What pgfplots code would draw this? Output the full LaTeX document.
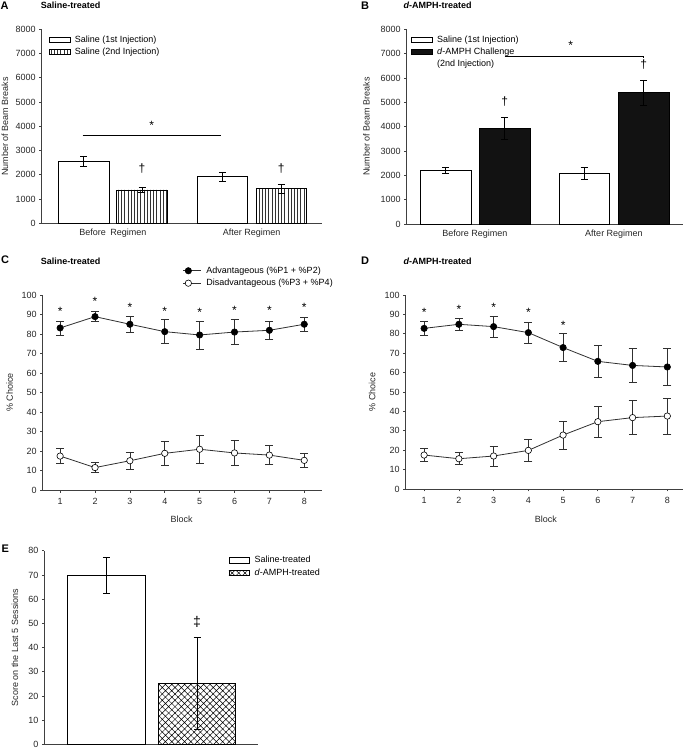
\documentclass[border=0pt]{standalone}
\usepackage{fontspec}
\setmainfont{Liberation Sans}
\usepackage{pgfplots}
\pgfplotsset{compat=1.18}
\usetikzlibrary{patterns,patterns.meta}
\definecolor{axgray}{HTML}{404040}
\definecolor{lngray}{HTML}{303030}
\newcommand{\nf}{\fontsize{9}{10.8}\selectfont}
\newcommand{\symf}{\fontsize{12}{12}\selectfont}
\pgfplotsset{
  base/.style={
    scale only axis, axis lines=left, axis line style={-, axgray, line width=0.8pt},
    tick align=outside, major tick length=2.5pt, tick style={axgray, line width=0.7pt},
    /pgf/number format/assume math mode=true, /pgf/number format/1000 sep={},
    tick label style={font=\nf, text=black!85}, label style={font=\nf, text=black!85},
    legend cell align=left, clip=false, anchor=south west,
    ylabel style={anchor=center},
  },
  barax/.style={base, ybar, x tick style={draw=none},
    error bars/error bar style={black, line width=0.6pt},
    error bars/error mark options={rotate=90, mark size=3.5pt, black, line width=0.6pt}},
  boxleg/.style={legend image code/.code={\draw[##1] (0pt,-2.7pt) rectangle (20.7pt,2.7pt);}},
  linleg/.style={legend image code/.code={\draw[mark repeat=2,mark phase=2,##1] plot coordinates {(0pt,0pt) (5pt,0pt) (18pt,0pt)};}},
  legst/.style={draw=none, fill=none, font=\nf, inner sep=0pt, row sep=2pt, column sep=3.5pt, nodes={inner sep=1.2pt}},
  lineplot/.style={lngray, line width=0.8pt, mark=*, mark size=3.2pt, linleg,
    error bars/.cd, y dir=both, y explicit,
    error bar style={lngray, line width=0.6pt},
    error mark options={rotate=90, mark size=4pt, lngray, line width=0.6pt}, /pgfplots/.cd},
}
\pgfplotstableread{
x y e
1 83.1 3.6
2 88.9 2.6
3 85.0 4.2
4 81.2 6.2
5 79.5 7.1
6 81.0 6.3
7 81.9 4.8
8 85.0 3.7
}\CAdv
\pgfplotstableread{
x y e
1 17.4 3.8
2 11.5 2.6
3 15.0 4.3
4 18.8 6.0
5 20.9 7.0
6 19.0 6.3
7 17.9 4.8
8 15.2 3.8
}\CDis
\pgfplotstableread{
x y e
1 82.8 3.5
2 84.9 2.9
3 83.7 5.4
4 80.6 5.4
5 72.9 7.3
6 65.8 8.2
7 63.7 8.7
8 62.9 9.5
}\DAdv
\pgfplotstableread{
x y e
1 17.5 3.4
2 15.6 3.1
3 17.0 5.1
4 19.9 5.6
5 27.8 7.3
6 34.7 7.8
7 36.8 8.8
8 37.6 9.4
}\DDis
\begin{document}
\begin{tikzpicture}
\useasboundingbox (0,0) rectangle (685pt,748pt);
% ---------------- Panel A ----------------
\node[anchor=west, inner sep=0pt, font=\bfseries\fontsize{11}{13}\selectfont] at (0.5pt,742pt) {A};
\node[anchor=west, inner sep=0pt, font=\bfseries\nf] at (40.7pt,742.7pt) {Saline-treated};
\begin{axis}[barax, at={(41.7pt,524.7pt)}, width=280pt, height=194pt,
  xmin=0, xmax=280, ymin=0, ymax=8000, ytick={0,1000,...,8000}, bar width=50.5,
  xtick={71.3,210}, xticklabels={Before\hspace{0.5em}Regimen, After Regimen},
  ylabel={Number of Beam Breaks}, ylabel style={at={(axis description cs:-0.131,0.5)}},
  legend style={legst, at={(axis description cs:0.025,0.975)}, anchor=north west}]
\addplot[draw=black, fill=white, line width=0.6pt, bar shift=0pt, boxleg,
  error bars/.cd, y dir=both, y explicit]
  coordinates {(42,2560) +- (0,205) (180.6,1924) +- (0,190)};
\addlegendentry{Saline (1st Injection)}
\addplot[draw=black, fill=white, line width=0.6pt, bar shift=0pt, boxleg,
  postaction={pattern={Lines[angle=90,distance=3.2pt,line width=0.7pt]}, pattern color=black!80},
  error bars/.cd, y dir=both, y explicit]
  coordinates {(100.3,1375) +- (0,110) (239.6,1430) +- (0,185)};
\addlegendentry{Saline (2nd Injection)}
\draw[black, line width=0.7pt] (axis cs:41,3643) -- (axis cs:179.3,3643);
\node[font=\symf] at (axis cs:110,4050) {*};
\node[font=\symf] at (axis cs:100.3,2239) {†};
\node[font=\symf] at (axis cs:239.6,2239) {†};
\end{axis}
% ---------------- Panel B ----------------
\node[anchor=west, inner sep=0pt, font=\bfseries\fontsize{11}{13}\selectfont] at (361pt,742pt) {B};
\node[anchor=west, inner sep=0pt, font=\bfseries\nf] at (403.3pt,742.7pt) {\textit{d}-AMPH-treated};
\begin{axis}[barax, at={(406.7pt,524pt)}, width=276.3pt, height=194.7pt,
  xmin=0, xmax=276.3, ymin=0, ymax=8000, ytick={0,1000,...,8000}, bar width=50.5,
  xtick={68.3,207.3}, xticklabels={Before Regimen, After Regimen},
  ylabel={Number of Beam Breaks}, ylabel style={at={(axis description cs:-0.146,0.5)}},
  legend style={legst, at={(axis description cs:0.015,0.975)}, anchor=north west}]
\addplot[draw=black, fill=white, line width=0.6pt, bar shift=0pt, boxleg,
  error bars/.cd, y dir=both, y explicit]
  coordinates {(39,2205) +- (0,140) (177.5,2082) +- (0,240)};
\addlegendentry{Saline (1st Injection)}
\addplot[draw=black, fill=black!93, line width=0.6pt, bar shift=0pt, boxleg,
  error bars/.cd, y dir=both, y explicit]
  coordinates {(98,3931) +- (0,460) (237,5397) +- (0,500)};
\addlegendentry{\textit{d}-AMPH Challenge}
\addlegendimage{empty legend}
\addlegendentry{(2nd Injection)}
\draw[black, line width=0.7pt] (axis cs:98,6877) -- (axis cs:236.6,6877) -- (axis cs:236.6,6820);
\node[font=\symf] at (axis cs:164,7330) {*};
\node[font=\symf] at (axis cs:98,5025) {†};
\node[font=\symf] at (axis cs:237,6533) {†};
\end{axis}
% ---------------- Panel C ----------------
\node[anchor=west, inner sep=0pt, font=\bfseries\fontsize{11}{13}\selectfont] at (1pt,488pt) {C};
\node[anchor=west, inner sep=0pt, font=\bfseries\nf] at (40.7pt,487pt) {Saline-treated};
\begin{axis}[base, at={(42.7pt,258pt)}, width=279pt, height=195pt,
  xmin=0.5, xmax=8.5, ymin=0, ymax=100, ytick={0,10,...,100}, xtick={1,...,8},
  x tick label style={yshift=-2pt},
  xlabel={Block}, xlabel style={at={(axis description cs:0.498,-0.149)}, anchor=center},
  ylabel={\% Choice}, ylabel style={at={(axis description cs:-0.118,0.5)}},
  legend style={legst, at={(axis description cs:0.502,1.152)}, anchor=north west}]
\addplot[lineplot, mark options={fill=black, draw=black, line width=0.6pt}]
  table[x=x, y=y, y error=e] {\CAdv};
\addlegendentry{Advantageous (\%P1 + \%P2)}
\addplot[lineplot, mark options={fill=white, draw=black, line width=0.6pt}]
  table[x=x, y=y, y error=e] {\CDis};
\addlegendentry{Disadvantageous (\%P3 + \%P4)}
\node[font=\symf] at (axis cs:1,91.7) {*};
\node[font=\symf] at (axis cs:2,96.5) {*};
\node[font=\symf] at (axis cs:3,93.6) {*};
\node[font=\symf] at (axis cs:4,91.7) {*};
\node[font=\symf] at (axis cs:5,91.0) {*};
\node[font=\symf] at (axis cs:6,92.2) {*};
\node[font=\symf] at (axis cs:7,92.2) {*};
\node[font=\symf] at (axis cs:8,93.6) {*};
\end{axis}
% ---------------- Panel D ----------------
\node[anchor=west, inner sep=0pt, font=\bfseries\fontsize{11}{13}\selectfont] at (361pt,487pt) {D};
\node[anchor=west, inner sep=0pt, font=\bfseries\nf] at (403.3pt,487pt) {\textit{d}-AMPH-treated};
\begin{axis}[base, at={(405.7pt,259pt)}, width=277.6pt, height=194pt,
  xmin=0.47, xmax=8.46, ymin=0, ymax=100, ytick={0,10,...,100}, xtick={1,...,8},
  x tick label style={yshift=-2pt},
  xlabel={Block}, xlabel style={at={(axis description cs:0.505,-0.154)}, anchor=center},
  ylabel={\% Choice}, ylabel style={at={(axis description cs:-0.121,0.5)}}]
\addplot[lineplot, mark options={fill=black, draw=black, line width=0.6pt}]
  table[x=x, y=y, y error=e] {\DAdv};
\addplot[lineplot, mark options={fill=white, draw=black, line width=0.6pt}]
  table[x=x, y=y, y error=e] {\DDis};
\node[font=\symf] at (axis cs:1,91.0) {*};
\node[font=\symf] at (axis cs:2,92.5) {*};
\node[font=\symf] at (axis cs:3,93.4) {*};
\node[font=\symf] at (axis cs:4,90.8) {*};
\node[font=\symf] at (axis cs:5,84.1) {*};
\end{axis}
% ---------------- Panel E ----------------
\node[anchor=west, inner sep=0pt, font=\bfseries\fontsize{11}{13}\selectfont] at (1.5pt,199.7pt) {E};
\begin{axis}[barax, at={(44.3pt,3.7pt)}, width=214pt, height=193.6pt,
  xmin=0, xmax=214, ymin=0, ymax=80, ytick={0,10,...,80}, xtick=\empty, bar width=77.4,
  ylabel={Score on the Last 5 Sessions}, ylabel style={at={(axis description cs:-0.137,0.5)}},
  legend style={legst, at={(axis description cs:0.86,0.978)}, anchor=north west}]
\addplot[draw=black, fill=white, line width=0.6pt, bar shift=0pt, boxleg,
  error bars/.cd, y dir=both, y explicit]
  coordinates {(62,69.9) +- (0,7.4)};
\addlegendentry{Saline-treated}
\addplot[draw=black, fill=white, line width=0.6pt, bar shift=0pt, boxleg,
  postaction={pattern={Hatch[angle=45,distance=4.5pt,line width=0.5pt]}, pattern color=black},
  error bars/.cd, y dir=both, y explicit]
  coordinates {(152.7,25.1) +- (0,19)};
\addlegendentry{\textit{d}-AMPH-treated}
\node[font=\fontsize{14}{14}\selectfont] at (axis cs:152.7,50.4) {‡};
\end{axis}
\end{tikzpicture}
\end{document}
